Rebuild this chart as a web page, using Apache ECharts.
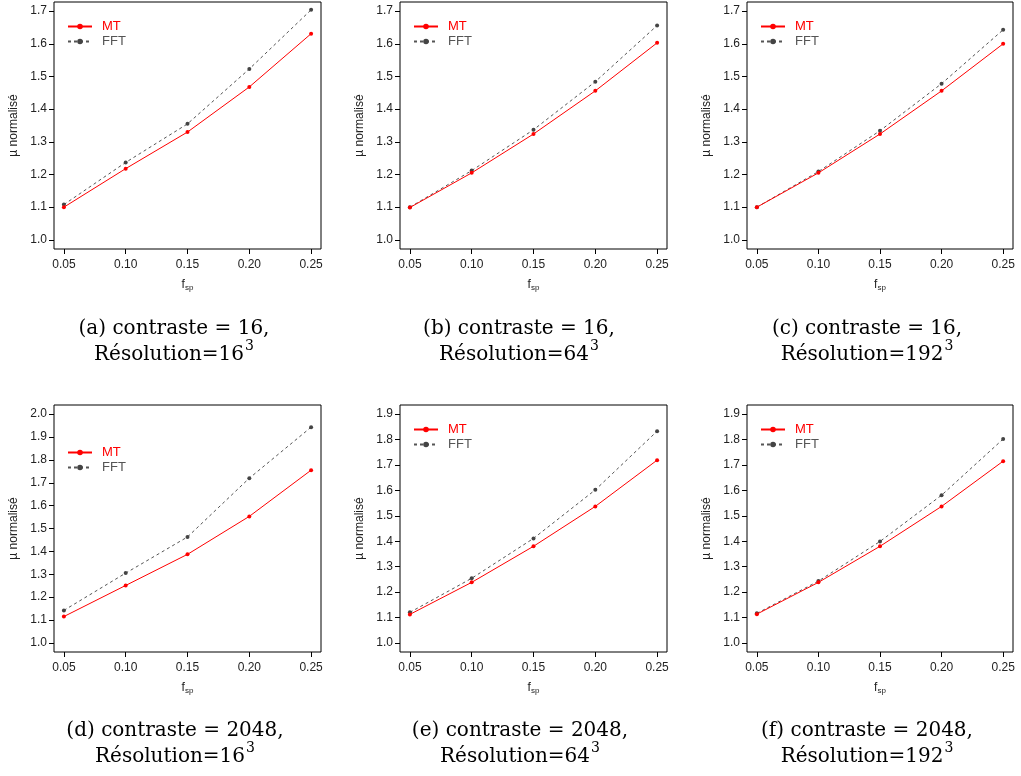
<!DOCTYPE html>
<html><head><meta charset="utf-8">
<script src="https://cdn.jsdelivr.net/npm/echarts@6/dist/echarts.min.js"></script>
<style>html,body{margin:0;padding:0;background:#fff}#c{width:1021px;height:776px}</style>
</head><body><div id="c"></div>
<script>
const fsp = [0.05, 0.10, 0.15, 0.20, 0.25];
const xTicks = [0.05, 0.10, 0.15, 0.20, 0.25];
const yTicks17 = [1.0, 1.1, 1.2, 1.3, 1.4, 1.5, 1.6, 1.7];
const yTicks20 = [1.0, 1.1, 1.2, 1.3, 1.4, 1.5, 1.6, 1.7, 1.8, 1.9, 2.0];
const yTicks19 = [1.0, 1.1, 1.2, 1.3, 1.4, 1.5, 1.6, 1.7, 1.8, 1.9];

const mtA = [1.100, 1.218, 1.330, 1.468, 1.631];
const fftA = [1.108, 1.237, 1.355, 1.523, 1.704];
const mtB = [1.099, 1.205, 1.324, 1.456, 1.603];
const fftB = [1.100, 1.212, 1.337, 1.484, 1.656];
const mtC = [1.100, 1.205, 1.324, 1.456, 1.600];
const fftC = [1.100, 1.209, 1.334, 1.478, 1.643];
const mtD = [1.115, 1.251, 1.387, 1.553, 1.755];
const fftD = [1.142, 1.305, 1.463, 1.720, 1.943];
const mtE = [1.112, 1.238, 1.380, 1.537, 1.719];
const fftE = [1.120, 1.254, 1.411, 1.602, 1.833];
const mtF = [1.113, 1.238, 1.380, 1.537, 1.715];
const fftF = [1.116, 1.243, 1.399, 1.581, 1.802];

const captionLine1 = [
  '(a) contraste = 16,', '(b) contraste = 16,', '(c) contraste = 16,',
  '(d) contraste = 2048,', '(e) contraste = 2048,', '(f) contraste = 2048,'
];
const captionRes = ['16', '64', '192', '16', '64', '192'];
const seriesNames = ['MT', 'FFT'];

const panels = [
  {grid:{left:54, top:2, width:267, height:247}, y:[1,1.7], yt:yTicks17, mt:mtA, fft:fftA, leg:{left:67, top:20}, cap:{x:174, y:313}},
  {grid:{left:400, top:2, width:267, height:247}, y:[1,1.7], yt:yTicks17, mt:mtB, fft:fftB, leg:{left:413, top:20}, cap:{x:519, y:313}},
  {grid:{left:747, top:2, width:266, height:247}, y:[1,1.7], yt:yTicks17, mt:mtC, fft:fftC, leg:{left:760, top:20}, cap:{x:867, y:313}},
  {grid:{left:54, top:405, width:267, height:247}, y:[1,2.0], yt:yTicks20, mt:mtD, fft:fftD, leg:{left:67, top:446}, cap:{x:175, y:715}},
  {grid:{left:400, top:405, width:267, height:247}, y:[1,1.9], yt:yTicks19, mt:mtE, fft:fftE, leg:{left:413, top:423}, cap:{x:520, y:715}},
  {grid:{left:747, top:405, width:266, height:247}, y:[1,1.9], yt:yTicks19, mt:mtF, fft:fftF, leg:{left:760, top:423}, cap:{x:867, y:715}}
];

const sans = 'Liberation Sans';
const serif = 'DejaVu Serif';
const grids = [], xAxes = [], yAxes = [], series = [], legends = [], titles = [];
panels.forEach((p, i) => {
  grids.push(Object.assign({show:true, borderColor:'#000', borderWidth:1, backgroundColor:'transparent', containLabel:false}, p.grid));
  const xr = 0.2 * 0.04;
  xAxes.push({
    type:'value', gridIndex:i, min:0.05 - xr, max:0.25 + xr,
    axisLine:{show:false}, splitLine:{show:false},
    axisTick:{show:true, customValues:xTicks, length:5, lineStyle:{color:'#000'}},
    axisLabel:{customValues:xTicks, formatter:v => v.toFixed(2), fontFamily:sans, fontSize:12, color:'#222', margin:10},
    name:'{f|f}{s|sp}', nameLocation:'middle', nameGap:28,
    nameTextStyle:{rich:{f:{fontFamily:sans, fontSize:12, color:'#222'}, s:{fontFamily:sans, fontSize:8, color:'#222', padding:[7,0,0,0]}}}
  });
  const yr = (p.y[1] - p.y[0]) * 0.04;
  yAxes.push({
    type:'value', gridIndex:i, min:p.y[0] - yr, max:p.y[1] + yr,
    axisLine:{show:false}, splitLine:{show:false},
    axisTick:{show:true, customValues:p.yt, length:5, lineStyle:{color:'#000'}},
    axisLabel:{customValues:p.yt, formatter:v => v.toFixed(1), fontFamily:sans, fontSize:12, color:'#222', margin:7},
    name:'µ normalisé', nameLocation:'middle', nameGap:34, nameRotate:90,
    nameTextStyle:{fontFamily:sans, fontSize:12, color:'#222'}
  });
  series.push({
    name:seriesNames[0], type:'line', xAxisIndex:i, yAxisIndex:i,
    data:fsp.map((x, k) => [x, p.mt[k]]),
    symbol:'circle', symbolSize:4, color:'#ff0000',
    lineStyle:{color:'#ff0000', width:1}, itemStyle:{color:'#ff0000'}, animation:false, z:3
  });
  series.push({
    name:seriesNames[1], type:'line', xAxisIndex:i, yAxisIndex:i,
    data:fsp.map((x, k) => [x, p.fft[k]]),
    symbol:'circle', symbolSize:4, color:'#444',
    lineStyle:{color:'#555', width:1, type:[3,3]}, itemStyle:{color:'#444'}, animation:false, z:2
  });
  legends.push({
    orient:'vertical', left:p.leg.left, top:p.leg.top, itemWidth:24, itemHeight:7, itemGap:2, padding:0,
    selectedMode:false,
    data:[{name:'MT', textStyle:{color:'#ff0000'}}, {name:'FFT', textStyle:{color:'#555'}}],
    textStyle:{fontFamily:sans, fontSize:13, padding:[0,0,0,5]}
  });
  titles.push({
    text:'{t|' + captionLine1[i] + '}\n{t|Résolution=' + captionRes[i] + '}{s|3}',
    left:p.cap.x, top:p.cap.y, textAlign:'center', padding:0,
    textStyle:{
      fontFamily:serif, fontSize:20, fontWeight:'normal', color:'#000', lineHeight:26,
      rich:{
        t:{fontFamily:serif, fontSize:20, color:'#000', lineHeight:26, verticalAlign:'bottom'},
        s:{fontFamily:serif, fontSize:14, color:'#000', lineHeight:26, verticalAlign:'top', padding:[0,0,6,1]}
      }
    }
  });
});

const chart = echarts.init(document.getElementById('c'), null, {renderer:'canvas'});
chart.setOption({animation:false, backgroundColor:'#fff', title:titles, legend:legends, grid:grids, xAxis:xAxes, yAxis:yAxes, series:series});
</script></body></html>
